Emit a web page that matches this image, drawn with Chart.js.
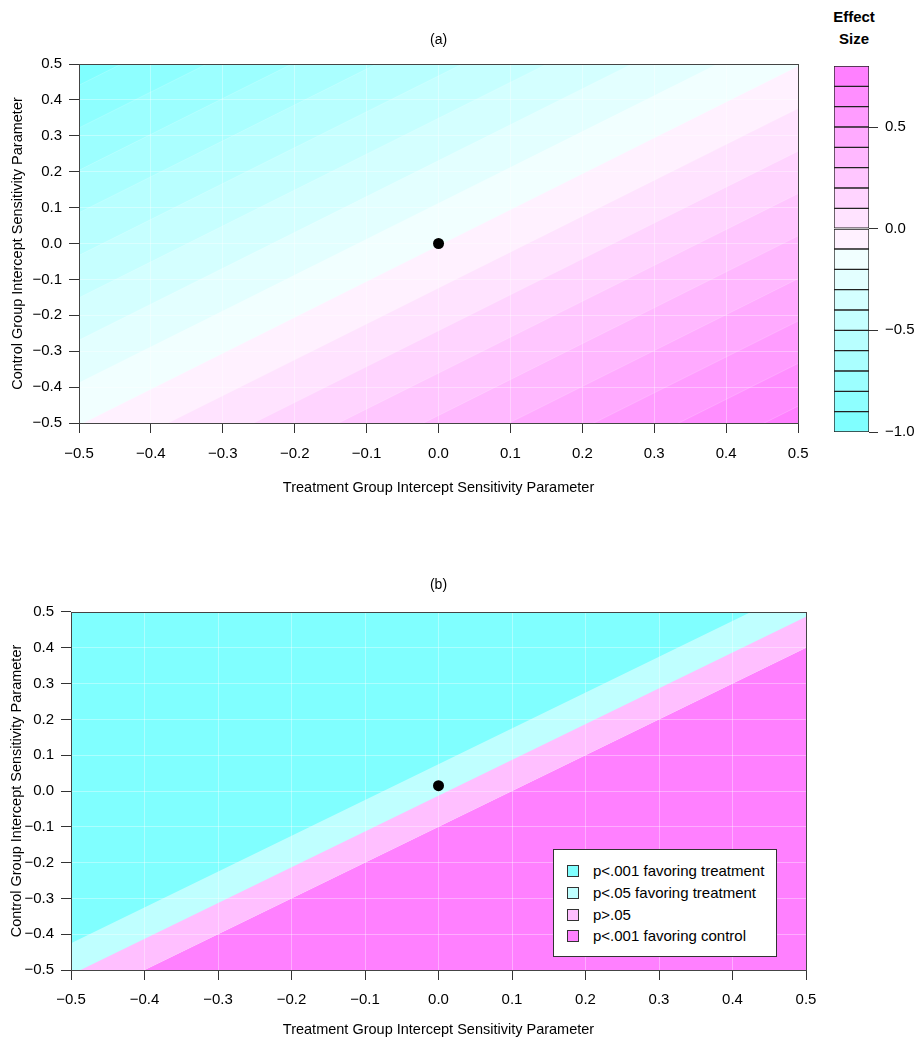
<!DOCTYPE html>
<html>
<head>
<meta charset="utf-8">
<script src="https://cdn.jsdelivr.net/npm/chart.js@4.4.1/dist/chart.umd.min.js"></script>
<style>
    body { margin: 0; background: #fff; font-family: 'Liberation Sans', Arial, sans-serif; }
    #wrap { position: relative; width: 924px; height: 1050px; overflow: hidden; }
    canvas { position: absolute; }
    #esTitle { position: absolute; left: 824px; top: 6px; width: 60px; text-align: center;
               font-weight: bold; font-size: 15px; line-height: 22px; color: #000; }
    #legendB { position: absolute; left: 553px; top: 849px; width: 224px; height: 108px;
               box-sizing: border-box; border: 1px solid #333; background: #fff; }
    .lg-row { position: absolute; left: 0; height: 22px; line-height: 22px; font-size: 15px; color: #000; white-space: nowrap; }
    .lg-box { position: absolute; left: 13px; top: 5px; width: 12px; height: 12px; box-sizing: border-box; border: 1px solid #333; }
    .lg-txt { position: absolute; left: 39px; top: 0; }
</style>
</head>
<body>
<div id="wrap">
    <canvas id="chartA" width="820" height="505" style="left:0;top:0"></canvas>
    <canvas id="scaleA" width="104" height="400" style="left:820px;top:50px"></canvas>
    <div id="esTitle">Effect<br>Size</div>
    <canvas id="chartB" width="924" height="540" style="left:0;top:510px"></canvas>
    <div id="legendB"></div>
</div>
<script>
// axis ticks (both panels)
const xTicks = [-0.5, -0.4, -0.3, -0.2, -0.1, 0.0, 0.1, 0.2, 0.3, 0.4, 0.5];
const yTicks = [-0.5, -0.4, -0.3, -0.2, -0.1, 0.0, 0.1, 0.2, 0.3, 0.4, 0.5];
const xTitle = 'Treatment Group Intercept Sensitivity Parameter';
const yTitle = 'Control Group Intercept Sensitivity Parameter';

// panel (a): effect size contour breaks and where each contour line meets x=-0.5 / x=0.5
const esBreaks = [-1.0, -0.9, -0.8, -0.7, -0.6, -0.5, -0.4, -0.3, -0.2, -0.1,
                  0.0, 0.1, 0.2, 0.3, 0.4, 0.5, 0.6, 0.7, 0.8];
const contourLeftY  = [0.441, 0.322, 0.204, 0.086, -0.033, -0.151, -0.269, -0.388, -0.506,
                       -0.624, -0.743, -0.861, -0.979, -1.098, -1.216, -1.334, -1.453, -1.571];
const contourRightY = [1.441, 1.322, 1.204, 1.086, 0.967, 0.849, 0.731, 0.612, 0.494,
                       0.376, 0.257, 0.139, 0.021, -0.098, -0.216, -0.334, -0.453, -0.571];
const esColors = ['#80FFFF', '#8EFFFF', '#9CFFFF', '#AAFFFF', '#B8FFFF', '#C6FFFF', '#D4FFFF', '#E3FFFF', '#F1FFFF',
                  '#FFF1FF', '#FFE3FF', '#FFD4FF', '#FFC6FF', '#FFB8FF', '#FFAAFF', '#FF9CFF', '#FF8EFF', '#FF80FF'];
const cbTicks = [-1.0, -0.5, 0.0, 0.5];
const pointA = [{ x: 0.0, y: 0.0 }];

// panel (b): significance region boundaries (y at x=-0.5 / x=0.5)
const sigLabels = ['p<.001 favoring treatment', 'p<.05 favoring treatment', 'p>.05', 'p<.001 favoring control'];
const sigColors = ['#80FFFF', '#BFFFFF', '#FFBFFF', '#FF80FF'];
const sigLeftY  = [-0.425, -0.513, -0.600];
const sigRightY = [0.575, 0.487, 0.400];
const pointB = [{ x: 0.0, y: 0.015 }];

const gridColor = 'rgba(255,255,255,0.35)';
const fontFam = "'Liberation Sans', Arial, sans-serif";

function fmt(v) {
    return (v < -1e-9 ? '\u2212' : '') + Math.abs(v).toFixed(1);
}

const frame = {
    id: 'frame',
    afterDatasetsDraw(chart) {
        const a = chart.chartArea, ctx = chart.ctx;
        ctx.save();
        ctx.strokeStyle = '#444';
        ctx.lineWidth = 1;
        ctx.strokeRect(Math.round(a.left) + 0.5, Math.round(a.top) + 0.5,
                       Math.round(a.right - a.left), Math.round(a.bottom - a.top));
        ctx.restore();
    }
};

function axes(yWidth, xHeight, yTitlePad, xTitlePad, xTickPad) {
    return {
        x: {
            type: 'linear', min: -0.5, max: 0.5,
            afterBuildTicks: s => { s.ticks = xTicks.map(v => ({ value: v })); },
            afterFit: s => { s.height = xHeight; },
            grid: { color: gridColor, tickColor: '#333', tickLength: 10 },
            border: { display: false },
            ticks: { callback: v => fmt(v), color: '#000', font: { family: fontFam, size: 15 },
                     padding: xTickPad, autoSkip: false, maxRotation: 0 },
            title: { display: true, text: xTitle, color: '#000', font: { family: fontFam, size: 14.5 },
                     padding: { top: 0, bottom: xTitlePad } }
        },
        y: {
            type: 'linear', min: -0.5, max: 0.5,
            afterBuildTicks: s => { s.ticks = yTicks.map(v => ({ value: v })); },
            afterFit: s => { s.width = yWidth; },
            grid: { color: gridColor, tickColor: '#333', tickLength: 10 },
            border: { display: false },
            ticks: { callback: v => fmt(v), color: '#000', font: { family: fontFam, size: 15 },
                     padding: 7, autoSkip: false },
            title: { display: true, text: yTitle, color: '#000', font: { family: fontFam, size: 14.5 },
                     padding: { top: yTitlePad, bottom: 0 } }
        }
    };
}

function dotDataset(pts) {
    return { data: pts, showLine: false, pointRadius: 5.5, pointBackgroundColor: '#000',
             pointBorderWidth: 0, fill: false };
}

// ---- panel (a)
const datasetsA = [dotDataset(pointA)];
contourLeftY.forEach((ly, i) => {
    datasetsA.push({
        data: [{ x: -0.5, y: ly }, { x: 0.5, y: contourRightY[i] }],
        borderColor: 'rgba(255,255,255,0.3)', borderWidth: 0.6, pointRadius: 0,
        backgroundColor: esColors[i], fill: 'end'
    });
});

new Chart(document.getElementById('chartA'), {
    type: 'line',
    data: { datasets: datasetsA },
    options: {
        responsive: false, animation: false, events: [],
        layout: { padding: { left: 0, right: 21, top: 0, bottom: 0 } },
        plugins: {
            legend: { display: false }, tooltip: { enabled: false },
            filler: { drawTime: 'beforeDraw' },
            title: { display: true, text: '(a)', fullSize: false, color: '#000',
                     font: { family: fontFam, size: 14, weight: 'normal' }, padding: { top: 31.6, bottom: 15.6 } }
        },
        scales: axes(79, 82, 9.3, 8.3, 11.5)
    },
    plugins: [frame]
});

// ---- colour key for (a)
new Chart(document.getElementById('scaleA'), {
    type: 'bar',
    data: {
        labels: ['Effect Size'],
        datasets: esColors.map((c, i) => ({
            data: [[esBreaks[i], esBreaks[i + 1]]],
            backgroundColor: c, borderColor: '#222', borderWidth: 1, borderSkipped: false,
            grouped: false, barPercentage: 1, categoryPercentage: 1
        }))
    },
    options: {
        responsive: false, animation: false, events: [],
        layout: { padding: { left: 14, right: 0, top: 15, bottom: 18 } },
        plugins: { legend: { display: false }, tooltip: { enabled: false } },
        scales: {
            x: { display: false },
            y: {
                position: 'right', min: -1.0, max: 0.8,
                afterBuildTicks: s => { s.ticks = cbTicks.map(v => ({ value: v })); },
                afterFit: s => { s.width = 55; },
                grid: { drawOnChartArea: false, tickColor: '#333', tickLength: 9 },
                border: { display: false },
                ticks: { callback: v => fmt(v), color: '#000', font: { family: fontFam, size: 15 }, padding: 7 }
            }
        }
    }
});

// ---- panel (b)
const datasetsB = [dotDataset(pointB)];
sigLeftY.forEach((ly, i) => {
    datasetsB.push({
        data: [{ x: -0.5, y: ly }, { x: 0.5, y: sigRightY[i] }],
        borderColor: 'rgba(0,0,0,0)', borderWidth: 0, pointRadius: 0,
        backgroundColor: sigColors[i], fill: 'end'
    });
});
datasetsB.push({
    data: [{ x: -0.5, y: sigLeftY[2] }, { x: 0.5, y: sigRightY[2] }],
    borderColor: 'rgba(0,0,0,0)', borderWidth: 0, pointRadius: 0,
    backgroundColor: sigColors[3], fill: 'start'
});

new Chart(document.getElementById('chartB'), {
    type: 'line',
    data: { datasets: datasetsB },
    options: {
        responsive: false, animation: false, events: [],
        layout: { padding: { left: 0, right: 118, top: 0, bottom: 0 } },
        plugins: {
            legend: { display: false }, tooltip: { enabled: false },
            filler: { drawTime: 'beforeDraw' },
            title: { display: true, text: '(b)', fullSize: false, color: '#000',
                     font: { family: fontFam, size: 14, weight: 'normal' }, padding: { top: 66.6, bottom: 18.6 } }
        },
        scales: axes(71, 80, 8.3, 11.3, 10.5)
    },
    plugins: [frame]
});

// legend for (b)
const lg = document.getElementById('legendB');
sigLabels.forEach((t, i) => {
    const row = document.createElement('div');
    row.className = 'lg-row';
    row.style.top = (10 + i * 21.8) + 'px';
    row.innerHTML = '<div class="lg-box" style="background:' + sigColors[i] + '"></div><span class="lg-txt"></span>';
    row.querySelector('.lg-txt').textContent = t;
    lg.appendChild(row);
});
</script>
</body>
</html>
